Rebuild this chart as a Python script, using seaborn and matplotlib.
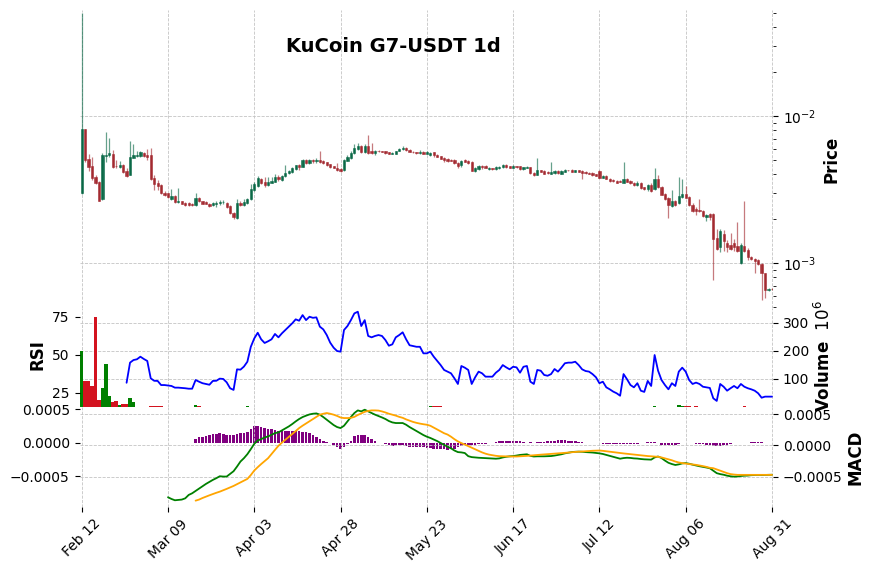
import numpy as np
import pandas as pd
import matplotlib
matplotlib.use("Agg")
import matplotlib.pyplot as plt
import seaborn as sns
from matplotlib.ticker import FuncFormatter

# ---------------- data ----------------
title = "KuCoin G7-USDT 1d"
dates = pd.date_range("2023-02-12", "2023-08-31", freq="D")

# prices in thousandths of USDT (x1e-3)
open_k = [2.99, 8.16, 5.10, 4.57, 3.85, 3.56, 2.72, 5.34, 5.43, 5.51,
          4.60, 4.50, 4.64, 4.23, 3.97, 5.18, 5.38, 5.34, 5.60, 5.43,
          5.43, 3.79, 3.50, 3.39, 2.99, 2.99, 2.72, 2.86, 2.60, 2.64,
          2.56, 2.56, 2.52, 2.48, 2.77, 2.64, 2.60, 2.52, 2.48, 2.52,
          2.56, 2.59, 2.56, 2.44, 2.19, 2.02, 2.56, 2.48, 2.56, 2.72,
          3.14, 3.34, 3.73, 3.56, 3.39, 3.50, 3.56, 3.85, 3.67, 3.91,
          4.10, 4.16, 4.36, 4.64, 4.50, 5.02, 4.79, 5.02, 4.97, 5.02,
          4.94, 4.87, 4.72, 4.57, 4.43, 4.36, 4.29, 4.94, 5.18, 5.60,
          5.97, 6.26, 5.69, 6.26, 5.78, 5.60, 5.80, 5.78, 5.78, 5.69,
          5.51, 5.51, 5.78, 5.92, 6.06, 5.87, 5.72, 5.69, 5.62, 5.69,
          5.51, 5.43, 5.69, 5.43, 5.34, 5.18, 5.10, 5.02, 5.02, 4.79,
          4.64, 5.02, 4.94, 4.87, 4.23, 4.36, 4.57, 4.57, 4.36, 4.43,
          4.36, 4.43, 4.50, 4.64, 4.57, 4.43, 4.57, 4.57, 4.36, 4.43,
          4.50, 4.10, 3.97, 4.29, 4.23, 4.16, 4.03, 4.10, 4.23, 4.03,
          4.16, 4.29, 4.29, 4.16, 4.29, 4.23, 4.16, 4.10, 4.10, 4.03,
          4.23, 3.79, 3.91, 3.73, 3.67, 3.61, 3.61, 3.50, 3.73, 3.61,
          3.50, 3.39, 3.50, 3.29, 3.19, 3.39, 3.19, 3.73, 3.29, 2.95,
          2.77, 2.44, 2.64, 2.56, 2.81, 2.95, 2.81, 2.48, 2.33, 2.29,
          2.26, 2.06, 2.15, 2.15, 1.48, 1.28, 1.58, 1.37, 1.32, 1.37,
          1.30, 1.00, 1.30, 1.22, 1.10, 1.06, 1.05, 0.984, 0.85, 0.65,
          0.67]
high_k = [50.0, 8.20, 5.51, 5.26, 3.97, 3.61, 5.60, 7.78, 7.09, 5.87,
          5.02, 4.94, 4.72, 4.43, 6.77, 6.46, 5.78, 5.75, 5.65, 5.97,
          6.06, 3.97, 3.67, 3.45, 3.09, 3.00, 3.19, 2.90, 3.24, 2.66,
          2.60, 2.58, 2.54, 2.99, 2.81, 2.66, 2.62, 2.54, 2.58, 2.64,
          2.68, 2.68, 2.58, 2.48, 2.22, 2.72, 2.64, 2.72, 2.77, 3.45,
          3.56, 3.91, 3.79, 3.85, 3.85, 3.85, 4.03, 3.97, 3.97, 4.64,
          4.29, 4.50, 4.66, 4.72, 5.10, 5.10, 5.06, 5.10, 5.18, 5.78,
          4.98, 4.90, 4.75, 4.60, 4.79, 4.40, 5.10, 5.43, 5.78, 6.46,
          6.56, 6.35, 6.46, 7.43, 6.56, 5.87, 5.85, 5.82, 5.82, 5.72,
          5.65, 5.82, 6.02, 6.26, 6.16, 5.92, 5.76, 5.72, 5.87, 5.74,
          5.74, 5.65, 5.72, 5.47, 5.38, 5.26, 5.14, 5.06, 5.06, 4.87,
          5.02, 5.06, 4.98, 4.94, 4.48, 4.62, 4.64, 4.62, 4.48, 4.46,
          4.55, 4.57, 4.68, 4.68, 4.60, 4.62, 4.60, 4.60, 4.53, 4.57,
          4.53, 4.13, 5.18, 4.32, 4.26, 4.20, 4.87, 4.26, 4.26, 4.26,
          4.35, 4.32, 4.35, 4.32, 4.32, 4.26, 4.20, 4.13, 4.13, 4.06,
          4.29, 3.94, 3.94, 3.76, 3.70, 3.64, 3.64, 4.87, 3.76, 3.64,
          3.53, 3.61, 3.53, 3.31, 3.45, 3.50, 4.43, 3.97, 3.34, 2.99,
          2.81, 3.14, 2.68, 3.85, 3.73, 3.34, 2.86, 2.56, 2.40, 2.72,
          2.29, 2.15, 2.19, 2.19, 1.71, 1.71, 1.68, 1.43, 1.60, 1.46,
          1.89, 1.37, 2.64, 1.26, 1.12, 1.08, 1.07, 1.00, 0.86, 0.68,
          0.68]
low_k = [2.95, 4.87, 4.23, 3.67, 3.45, 2.62, 2.68, 4.87, 5.26, 4.45,
         4.43, 4.43, 4.10, 3.85, 3.95, 5.16, 5.30, 5.30, 5.30, 5.02,
         3.67, 3.14, 3.14, 2.95, 2.86, 2.77, 2.70, 2.56, 2.56, 2.50,
         2.44, 2.46, 2.46, 2.44, 2.60, 2.50, 2.50, 2.42, 2.46, 2.40,
         2.48, 2.52, 2.38, 2.15, 1.99, 1.99, 2.44, 2.44, 2.52, 2.68,
         3.09, 3.29, 3.45, 3.29, 3.34, 3.48, 3.55, 3.61, 3.61, 3.85,
         4.03, 4.10, 4.29, 4.29, 4.48, 4.72, 4.75, 4.79, 4.79, 4.79,
         4.75, 4.60, 4.45, 4.40, 4.23, 4.18, 4.23, 4.92, 5.10, 5.51,
         5.87, 5.60, 5.60, 5.51, 5.51, 5.43, 5.70, 5.65, 5.55, 5.47,
         5.47, 5.47, 5.74, 5.87, 5.82, 5.65, 5.62, 5.55, 5.55, 5.47,
         5.47, 5.38, 5.26, 5.22, 5.06, 4.87, 4.90, 4.92, 4.75, 4.43,
         4.50, 4.83, 4.75, 4.20, 4.18, 4.32, 4.36, 4.40, 4.32, 4.32,
         4.32, 4.36, 4.46, 4.46, 4.40, 4.40, 4.46, 4.32, 4.32, 4.40,
         4.06, 3.93, 3.95, 4.13, 4.00, 4.06, 4.00, 4.06, 4.06, 4.00,
         4.13, 4.23, 4.13, 4.13, 4.13, 3.73, 4.06, 4.00, 3.93, 3.88,
         3.76, 3.76, 3.70, 3.58, 3.58, 3.48, 3.53, 3.48, 3.53, 3.47,
         3.36, 3.36, 3.21, 3.16, 3.09, 3.04, 3.16, 3.26, 2.88, 2.70,
         2.02, 2.40, 2.44, 2.52, 2.77, 2.75, 2.44, 2.22, 2.12, 2.22,
         2.06, 1.93, 1.96, 0.77, 1.22, 1.18, 1.20, 1.18, 1.22, 1.20,
         1.18, 0.99, 1.18, 1.05, 1.04, 0.86, 0.97, 0.56, 0.58, 0.64,
         0.65]
close_k = [8.16, 5.02, 4.50, 3.79, 3.50, 2.64, 5.43, 5.43, 5.60, 4.50,
           4.55, 4.64, 4.16, 3.91, 5.26, 5.43, 5.45, 5.69, 5.34, 5.26,
           3.73, 3.45, 3.34, 2.99, 2.90, 2.81, 2.86, 2.60, 2.64, 2.52,
           2.48, 2.48, 2.48, 2.77, 2.64, 2.52, 2.52, 2.44, 2.56, 2.56,
           2.60, 2.61, 2.40, 2.19, 2.06, 2.56, 2.48, 2.60, 2.72, 3.19,
           3.45, 3.79, 3.50, 3.39, 3.56, 3.61, 3.85, 3.73, 3.91, 4.10,
           4.23, 4.43, 4.64, 4.50, 5.02, 4.79, 5.02, 4.97, 5.02, 4.87,
           4.79, 4.64, 4.50, 4.43, 4.29, 4.23, 5.02, 5.26, 5.60, 6.06,
           6.26, 5.69, 6.26, 5.60, 5.60, 5.78, 5.74, 5.72, 5.60, 5.51,
           5.60, 5.78, 5.97, 6.06, 5.87, 5.69, 5.66, 5.60, 5.68, 5.51,
           5.69, 5.60, 5.43, 5.26, 5.10, 5.02, 4.94, 4.96, 4.79, 4.57,
           4.94, 4.87, 4.79, 4.23, 4.43, 4.57, 4.50, 4.43, 4.43, 4.36,
           4.50, 4.50, 4.64, 4.50, 4.43, 4.57, 4.50, 4.36, 4.50, 4.50,
           4.10, 3.97, 4.29, 4.16, 4.03, 4.10, 4.16, 4.23, 4.10, 4.23,
           4.29, 4.26, 4.16, 4.29, 4.16, 4.10, 4.10, 4.03, 3.97, 3.91,
           3.79, 3.91, 3.73, 3.61, 3.61, 3.50, 3.56, 3.73, 3.56, 3.50,
           3.39, 3.50, 3.24, 3.19, 3.39, 3.09, 3.73, 3.29, 2.90, 2.72,
           2.48, 2.64, 2.48, 2.86, 2.95, 2.77, 2.48, 2.26, 2.26, 2.26,
           2.09, 2.12, 2.06, 1.46, 1.24, 1.65, 1.41, 1.28, 1.24, 1.28,
           1.20, 1.32, 1.20, 1.10, 1.06, 1.03, 0.984, 0.85, 0.65, 0.67,
           0.66]

# volume in millions
volume_m = [200, 93, 93, 74, 322, 26, 67, 155, 40, 18,
            22, 8, 10, 10, 32, 18, 0.5, 0.5, 0.5, 0.5,
            4, 4, 4, 4, 0.5, 0.5, 0.5, 0.5, 0.5, 0.5,
            0.5, 0.5, 0.5, 6, 4, 0.5, 0.5, 0.5, 0.5, 0.5,
            0.5, 0.5, 0.5, 0.5, 0.5, 0.5, 0.5, 0.5, 3, 0.5,
            0.5, 0.5, 0.5, 0.5, 0.5, 0.5, 0.5, 0.5, 0.5, 0.5,
            0.5, 0.5, 0.5, 0.5, 0.5, 0.5, 0.5, 0.5, 0.5, 0.5,
            0.5, 0.5, 0.5, 0.5, 0.5, 0.5, 0.5, 0.5, 0.5, 0.5,
            0.5, 0.5, 0.5, 0.5, 0.5, 0.5, 0.5, 0.5, 0.5, 0.5,
            0.5, 0.5, 0.5, 0.5, 0.5, 0.5, 0.5, 0.5, 0.5, 0.5,
            0.5, 4, 4, 4, 3, 0.5, 0.5, 0.5, 0.5, 0.5,
            0.5, 0.5, 0.5, 0.5, 0.5, 0.5, 0.5, 0.5, 0.5, 0.5,
            0.5, 0.5, 0.5, 0.5, 0.5, 0.5, 0.5, 0.5, 0.5, 0.5,
            0.5, 0.5, 0.5, 0.5, 0.5, 0.5, 0.5, 0.5, 0.5, 0.5,
            0.5, 0.5, 0.5, 0.5, 0.5, 0.5, 0.5, 0.5, 0.5, 0.5,
            0.5, 0.5, 0.5, 0.5, 0.5, 0.5, 0.5, 0.5, 0.5, 0.5,
            0.5, 0.5, 0.5, 0.5, 0.5, 0.5, 4, 0.5, 0.5, 0.5,
            0.5, 0.5, 0.5, 6, 5, 4, 3, 0.5, 3, 0.5,
            0.5, 0.5, 0.5, 0.5, 0.5, 0.5, 0.5, 0.5, 0.5, 0.5,
            0.5, 0.5, 4, 0.5, 0.5, 0.5, 0.5, 0.5, 0.5, 0.5,
            0.5]

# RSI, starting at candle 13
rsi_start = 13
rsi = [31.7, 44.9, 46.6, 47.1, 48.8, 47.3, 46.0, 34.6, 33.0, 32.9,
       30.2, 30.2, 29.9, 29.6, 28.5, 28.5, 28.3, 28.1, 27.8, 27.8,
       33.5, 32.4, 31.4, 30.9, 30.4, 32.9, 33.0, 34.4, 34.2, 32.0,
       28.1, 27.0, 40.5, 40.3, 42.3, 45.5, 55.3, 60.8, 64.5, 60.2,
       57.8, 58.9, 60.2, 63.7, 61.5, 64.1, 66.3, 68.5, 70.7, 73.3,
       72.4, 76.1, 72.8, 75.0, 74.3, 74.6, 68.5, 66.7, 63.0, 58.0,
       54.7, 52.5, 52.1, 66.3, 68.9, 72.8, 77.2, 78.3, 68.9, 72.8,
       62.4, 61.5, 62.4, 63.0, 62.4, 59.7, 56.0, 56.9, 61.5, 63.0,
       64.8, 60.2, 56.3, 55.8, 55.3, 55.3, 51.0, 51.0, 52.1, 48.8,
       46.0, 43.3, 40.1, 39.0, 37.9, 34.6, 30.9, 42.7, 41.6, 40.1,
       30.9, 35.3, 39.0, 37.9, 35.7, 35.7, 35.7, 38.3, 40.1, 43.3,
       41.8, 40.5, 42.2, 41.8, 38.3, 42.2, 42.7, 32.4, 30.9, 40.1,
       39.6, 36.8, 36.3, 37.4, 40.7, 39.0, 41.6, 44.5, 44.9, 44.9,
       45.5, 43.3, 40.5, 39.4, 39.0, 37.4, 35.3, 31.4, 32.4, 28.7,
       27.4, 25.9, 24.8, 23.2, 37.4, 34.0, 30.2, 28.7, 31.4, 26.5,
       25.7, 32.9, 29.6, 49.9, 39.6, 33.5, 30.2, 27.4, 31.4, 29.6,
       39.0, 41.6, 39.0, 33.5, 30.9, 31.8, 30.9, 29.1, 28.7, 28.3,
       21.5, 19.8, 30.9, 29.1, 26.5, 28.1, 29.6, 28.1, 30.9, 29.1,
       28.1, 27.4, 26.5, 24.8, 21.9, 22.6, 22.6, 22.6]

# MACD line (x1e-4), starting at candle 25
macd_start = 25
macd_e4 = [-8.23, -8.50, -8.71, -8.66, -8.60, -8.40, -7.86, -7.60, -7.23, -6.86,
           -6.49, -6.11, -5.79, -5.47, -5.20, -4.89, -4.94, -4.94, -4.51, -4.09,
           -3.35, -2.55, -2.02, -1.38, -0.58, 0.27, 0.80, 1.01, 1.28, 1.44,
           1.71, 1.97, 2.08, 2.39, 2.71, 3.03, 3.41, 3.83, 4.21, 4.52,
           4.74, 4.94, 5.05, 5.10, 4.90, 4.52, 4.10, 3.67, 3.25, 2.93,
           2.77, 3.14, 3.83, 4.52, 5.16, 5.58, 5.42, 5.69, 5.42, 5.16,
           4.90, 4.68, 4.46, 4.21, 3.89, 3.67, 3.57, 3.57, 3.57, 3.30,
           2.93, 2.62, 2.30, 1.97, 1.66, 1.40, 1.20, 0.95, 0.70, 0.40,
           0.10, -0.20, -0.45, -0.80, -1.05, -1.10, -1.20, -1.70, -1.85, -1.90,
           -1.95, -1.98, -2.00, -2.05, -2.08, -2.10, -2.05, -1.90, -1.80, -1.72,
           -1.68, -1.60, -1.50, -1.45, -1.40, -1.65, -1.75, -1.72, -1.72, -1.72,
           -1.70, -1.68, -1.60, -1.50, -1.40, -1.25, -1.15, -1.05, -1.00, -0.98,
           -1.00, -1.05, -1.08, -1.12, -1.18, -1.25, -1.35, -1.50, -1.65, -1.80,
           -1.95, -2.10, -2.00, -1.95, -1.98, -2.05, -2.08, -2.15, -2.20, -2.22,
           -2.25, -1.90, -1.75, -2.00, -2.40, -2.75, -2.95, -3.10, -3.00, -2.85,
           -2.80, -2.90, -3.05, -3.18, -3.30, -3.40, -3.50, -3.62, -4.00, -4.40,
           -4.55, -4.65, -4.80, -4.90, -4.95, -4.92, -4.85, -4.80, -4.78, -4.72,
           -4.70, -4.68, -4.70, -4.68, -4.65, -4.65]

# signal line and histogram (x1e-4), starting at candle 33
sig_start = 33
signal_e4 = [-8.77, -8.60, -8.35, -8.13, -7.92, -7.72, -7.52, -7.34, -7.12, -6.90,
             -6.66, -6.43, -6.15, -5.88, -5.60, -5.31, -4.70, -3.98, -3.45, -2.95,
             -2.48, -2.02, -1.35, -0.70, -0.05, 0.45, 0.90, 1.34, 1.82, 2.30,
             2.77, 3.15, 3.50, 3.83, 4.20, 4.55, 4.90, 5.05, 5.16, 5.05,
             4.90, 4.70, 4.45, 4.36, 4.36, 4.40, 4.55, 4.85, 5.10, 5.35,
             5.50, 5.58, 5.58, 5.55, 5.42, 5.25, 5.05, 4.90, 4.75, 4.55,
             4.40, 4.15, 3.95, 3.75, 3.60, 3.48, 3.38, 3.30, 3.14, 2.85,
             2.55, 2.25, 1.95, 1.74, 1.40, 1.00, 0.65, 0.38, 0.15, -0.10,
             -0.35, -0.60, -0.85, -1.10, -1.30, -1.45, -1.55, -1.64, -1.70, -1.72,
             -1.74, -1.75, -1.75, -1.75, -1.72, -1.70, -1.65, -1.60, -1.55, -1.50,
             -1.46, -1.42, -1.38, -1.34, -1.30, -1.26, -1.22, -1.17, -1.12, -1.07,
             -1.02, -0.98, -0.96, -0.92, -0.88, -0.84, -0.82, -0.80, -0.85, -0.92,
             -0.98, -1.05, -1.12, -1.20, -1.26, -1.32, -1.38, -1.44, -1.50, -1.56,
             -1.62, -1.68, -1.72, -1.75, -1.80, -1.90, -2.05, -2.20, -2.35, -2.55,
             -2.70, -2.80, -2.88, -2.95, -3.02, -3.08, -3.18, -3.28, -3.40, -3.55,
             -3.61, -3.80, -4.00, -4.20, -4.40, -4.55, -4.62, -4.67, -4.67, -4.67,
             -4.67, -4.67, -4.67, -4.67, -4.67, -4.67, -4.67, -4.67]
hist_e4 = [0.55, 0.80, 0.90, 1.00, 1.10, 1.25, 1.35, 1.40, 1.30, 1.20,
           1.10, 1.20, 1.35, 1.40, 1.50, 1.63, 2.08, 2.48, 2.53, 2.38,
           2.23, 2.08, 1.98, 1.88, 1.78, 1.73, 1.73, 1.68, 1.68, 1.73,
           1.68, 1.63, 1.53, 1.40, 1.10, 0.80, 0.50, 0.20, 0.10, -0.10,
           -0.40, -0.60, -0.94, -0.60, -0.20, 0.20, 1.00, 1.20, 1.20, 1.15,
           0.80, 0.50, 0.20, 0.00, -0.10, -0.20, -0.40, -0.50, -0.40, -0.40,
           -0.30, -0.50, -0.60, -0.60, -0.60, -0.65, -0.70, -0.75, -0.84, -0.90,
           -0.95, -1.00, -1.00, -1.05, -1.00, -0.90, -0.70, -0.50, -0.30, -0.30,
           -0.40, -0.30, -0.20, -0.20, -0.15, -0.10, -0.10, 0.10, 0.20, 0.30,
           0.30, 0.30, 0.30, 0.20, 0.30, 0.05, 0.00, 0.10, -0.10, 0.10,
           0.15, 0.10, 0.20, 0.25, 0.30, 0.35, 0.40, 0.35, 0.30, 0.25,
           0.20, 0.10, 0.05, 0.00, -0.05, -0.05, -0.10, -0.10, -0.15, -0.20,
           -0.20, -0.20, -0.20, -0.20, -0.15, -0.15, -0.15, -0.15, -0.15, -0.10,
           -0.05, 0.05, 0.10, 0.10, -0.10, -0.30, -0.35, -0.40, -0.35, -0.30,
           -0.15, -0.10, -0.10, -0.10, -0.10, -0.15, -0.15, -0.20, -0.30, -0.40,
           -0.45, -0.50, -0.45, -0.40, -0.30, -0.20, -0.10, -0.05, 0.00, 0.00,
           0.00, 0.10, 0.10, 0.10, 0.05, 0.00, 0.00, 0.00]

# ---------------- style ----------------
sns.set_theme(style="white")
plt.rcParams['font.family'] = ['DejaVu Sans']
plt.rcParams.update({
    'text.color': 'black', 'axes.labelcolor': 'black',
    'xtick.color': 'black', 'ytick.color': 'black',
    'patch.force_edgecolor': False, 'patch.edgecolor': 'none',
})

UP, DOWN = '#006340', '#a02128'
VUP, VDOWN = '#008000', '#d3131f'
GRID = dict(color='#c4c4c4', linestyle='--', linewidth=0.6)

o = np.array(open_k) * 1e-3
h = np.array(high_k) * 1e-3
l = np.array(low_k) * 1e-3
c = np.array(close_k) * 1e-3
v = np.array(volume_m, dtype=float)
x = np.arange(len(dates))
up = c >= o

fig = plt.figure(figsize=(8.76, 5.71), dpi=100)
FW, FH = 876.0, 571.0
L, R = 79.5, 773.0
T0, B0, B1, B2 = 10.0, 307.6, 407.0, 507.0
def rect(top, bot):
    return [L / FW, 1 - bot / FH, (R - L) / FW, (bot - top) / FH]

ax_p = fig.add_axes(rect(T0, B0))
ax_v = fig.add_axes(rect(B0, B1), sharex=ax_p)
ax_m = fig.add_axes(rect(B1, B2), sharex=ax_p)
ax_r = ax_v.twinx()
ax_h = ax_m.twinx()

for a in (ax_p, ax_v, ax_m, ax_r, ax_h):
    for s in a.spines.values():
        s.set_visible(False)

# ---- candles ----
wcol = np.where(up, UP, DOWN)
ax_p.vlines(x, l, h, colors=wcol, linewidth=0.9, alpha=0.6, zorder=2)
ax_p.bar(x, np.abs(c - o), bottom=np.minimum(o, c), width=0.65,
         color=wcol, edgecolor=wcol, linewidth=0.4, alpha=0.9, zorder=3)
ax_p.set_yscale('log')
ax_p.set_ylim(0.000497, 0.0526)
ax_p.yaxis.tick_right()
ax_p.grid(True, which='major', **GRID)
ax_p.tick_params(axis='x', bottom=False, labelbottom=False)
ax_p.tick_params(axis='y', which='major', right=True, length=3.5, width=0.8,
                 color='black', labelsize=10)
ax_p.tick_params(axis='y', which='minor', right=True, length=2, width=0.6,
                 color='black')

# ---- volume + RSI ----
ax_v.bar(x, v, width=1.0, color=np.where(up, VUP, VDOWN), edgecolor='none',
         linewidth=0, zorder=2)
ax_v.set_ylim(0.3 * v.min(), 1.1 * v.max())
ax_v.yaxis.tick_right()
ax_v.set_yticks([100, 200, 300])
ax_v.grid(True, **GRID)
ax_v.tick_params(axis='x', bottom=False, labelbottom=False)
ax_v.tick_params(axis='y', right=True, left=False, length=3.5, width=0.8,
                 color='black', labelsize=10)

xr = np.arange(rsi_start, rsi_start + len(rsi))
sns.lineplot(x=xr, y=np.array(rsi), ax=ax_r, color='blue', linewidth=1.3,
             estimator=None)
ax_r.yaxis.tick_left()
ax_r.set_ylim(15.8, 81.0)
ax_r.set_yticks([25, 50, 75])
ax_r.grid(False)
ax_r.set_xlabel('')
ax_r.set_ylabel('')
ax_r.tick_params(axis='y', left=True, right=False, labelleft=True,
                 labelright=False, length=3.5, width=0.8, color='black',
                 labelsize=10)

# ---- MACD ----
fmt = FuncFormatter(lambda val, pos: f"{val:.4f}".replace('-', '\u2212'))
xm = np.arange(macd_start, macd_start + len(macd_e4))
xs = np.arange(sig_start, sig_start + len(signal_e4))
sns.lineplot(x=xm, y=np.array(macd_e4) * 1e-4, ax=ax_m, color='green',
             linewidth=1.3, estimator=None)
sns.lineplot(x=xs, y=np.array(signal_e4) * 1e-4, ax=ax_m, color='orange',
             linewidth=1.3, estimator=None)
ax_m.yaxis.tick_right()
ax_m.set_ylim(-0.000978, 0.000612)
ax_m.set_yticks([-0.0005, 0.0, 0.0005])
ax_m.yaxis.set_major_formatter(fmt)
ax_m.grid(True, **GRID)
ax_m.set_xlabel('')
ax_m.set_ylabel('')
ax_m.tick_params(axis='y', right=True, left=False, labelright=True,
                 labelleft=False, length=3.5, width=0.8, color='black',
                 labelsize=10)

ax_h.bar(xs, np.array(hist_e4) * 1e-4, width=0.75, color='purple',
         edgecolor='none', linewidth=0, zorder=1)
ax_h.yaxis.tick_left()
ax_h.set_ylim(-0.000955, 0.00053)
ax_h.set_yticks([-0.0005, 0.0, 0.0005])
ax_h.yaxis.set_major_formatter(fmt)
ax_h.grid(False)
ax_h.tick_params(axis='y', left=True, right=False, labelleft=True,
                 labelright=False, length=3.5, width=0.8, color='black',
                 labelsize=10)
ax_m.set_zorder(ax_h.get_zorder() + 1)
ax_m.patch.set_visible(False)

tick_pos = x[::25]
ax_m.set_xticks(tick_pos)
ax_m.set_xticklabels([d.strftime('%b %d') for d in dates[::25]], rotation=45,
                     ha='center')
ax_m.tick_params(axis='x', bottom=True, labelbottom=True, length=3.5,
                 width=0.8, color='black', labelsize=10)
ax_p.set_xlim(-0.64, 200.3)

# ---- texts ----
fig.text(393 / FW, 1 - 47 / FH, title, ha='center', va='center',
         fontsize=14, fontweight='bold')
fig.text(831 / FW, 1 - 159 / FH, 'Price', rotation=90, ha='center',
         va='center', fontsize=12, fontweight='bold')
fig.text(37 / FW, 1 - 355 / FH, 'RSI', rotation=90, ha='center',
         va='center', fontsize=12, fontweight='bold')
fig.text(824 / FW, 1 - 356 / FH, 'Volume  $10^{6}$', rotation=90,
         ha='center', va='center', fontsize=12, fontweight='bold')
fig.text(856 / FW, 1 - 457 / FH, 'MACD', rotation=90, ha='center',
         va='center', fontsize=12, fontweight='bold')

fig.savefig('out.png', dpi=100)
